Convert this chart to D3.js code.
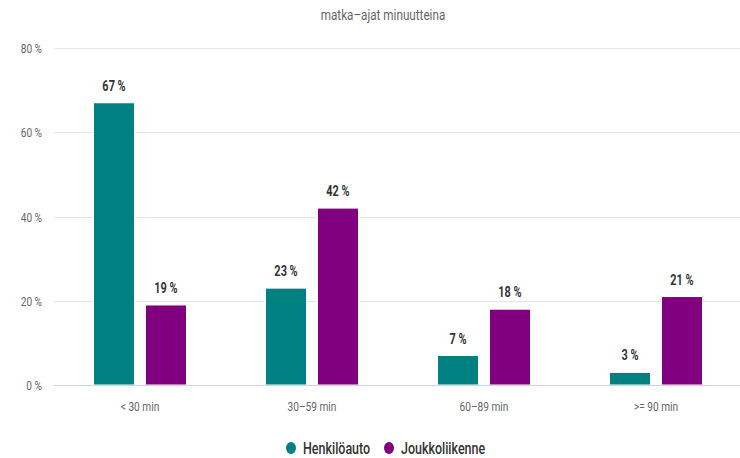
<!DOCTYPE html>
<html>
<head>
<meta charset="utf-8">
<script src="https://cdn.jsdelivr.net/npm/d3@7"></script>
<style>
  html, body { margin: 0; padding: 0; background: #fff; }
  svg { display: block; font-family: Roboto, "Noto Sans", sans-serif; }
</style>
</head>
<body>
<svg id="chart" width="740" height="458"></svg>
<script>
// Travel times in minutes: share of trips by car vs. public transport
const categories = ["< 30 min", "30–59 min", "60–89 min", ">= 90 min"];
const seriesNames = ["Henkilöauto", "Joukkoliikenne"];
const henkiloauto = [67, 23, 7, 3];
const joukkoliikenne = [19, 42, 18, 21];
const yTicks = [0, 20, 40, 60, 80];
const colors = ["#008080", "#800080"];
const title = "matka–ajat minuutteina";

const svg = d3.select("#chart");
const W = 740, H = 458;
const margin = { left: 54, right: -2, top: 48, bottom: 73 };
const y0 = H - margin.bottom;
const SX = 0.78; // horizontal squeeze for a narrow typeface look

const x = d3.scaleBand().domain(categories).range([margin.left, W - margin.right]);
const xs = d3.scaleBand().domain(seriesNames).range([0, x.bandwidth()]).paddingInner(0.21).paddingOuter(0.76);
const y = d3.scaleLinear().domain([0, 80]).range([y0, margin.top]);

// place a narrow text at (px, py)
function narrow(sel, px, py) {
  return sel.attr("transform", (d, i) => `translate(${px(d, i)},${py(d, i)}) scale(${SX},1)`);
}

// Title
narrow(svg.append("text").datum(title), () => 383, () => 20)
  .attr("text-anchor", "middle")
  .attr("fill", "#666").attr("font-size", 15)
  .text(title);

// Grid lines and y labels
const yAxis = svg.append("g");
yAxis.selectAll("line").data(yTicks.filter(d => d > 0)).join("line")
  .attr("x1", margin.left).attr("x2", W)
  .attr("y1", d => Math.round(y(d)) + 0.5).attr("y2", d => Math.round(y(d)) + 0.5)
  .attr("stroke", "#e6e6e6").attr("stroke-width", 1);
narrow(yAxis.selectAll("text").data(yTicks).join("text"), () => 42, d => y(d) + 5)
  .attr("text-anchor", "end")
  .attr("fill", "#666").attr("font-size", 13)
  .text(d => d + " %");

// Bars
const rows = categories.map((c, i) => ({ cat: c, values: [henkiloauto[i], joukkoliikenne[i]] }));
const groups = svg.append("g").selectAll("g").data(rows).join("g")
  .attr("transform", d => `translate(${x(d.cat)},0)`);
const cells = d => d.values.map((v, j) => ({ v, s: seriesNames[j], j }));
groups.selectAll("rect").data(cells).join("rect")
  .attr("x", d => xs(d.s)).attr("width", xs.bandwidth())
  .attr("y", d => y(d.v)).attr("height", d => y0 - y(d.v))
  .attr("fill", d => colors[d.j])
  .attr("stroke", "#ffffff").attr("stroke-width", 1);
narrow(groups.selectAll("text").data(cells).join("text"),
       d => xs(d.s) + xs.bandwidth() / 2, d => y(d.v) - 12)
  .attr("text-anchor", "middle")
  .attr("fill", "#333").attr("font-size", 14).attr("font-weight", "bold")
  .text(d => d.v + " %");

// Baseline
svg.append("line")
  .attr("x1", margin.left).attr("x2", W)
  .attr("y1", Math.round(y0) + 0.5).attr("y2", Math.round(y0) + 0.5)
  .attr("stroke", "#ccd6eb").attr("stroke-width", 1);

// X axis labels
narrow(svg.append("g").selectAll("text").data(categories).join("text"),
       d => x(d) + x.bandwidth() / 2, () => y0 + 26)
  .attr("text-anchor", "middle")
  .attr("fill", "#666").attr("font-size", 13)
  .text(d => d);

// Legend
const legendItems = [
  { name: seriesNames[0], color: colors[0], cx: 291 },
  { name: seriesNames[1], color: colors[1], cx: 389 }
];
const lg = svg.append("g").selectAll("g").data(legendItems).join("g");
lg.append("ellipse")
  .attr("cx", d => d.cx).attr("cy", 448).attr("rx", 5).attr("ry", 6)
  .attr("fill", d => d.color);
narrow(lg.append("text"), d => d.cx + 12, () => 454)
  .attr("fill", "#333").attr("font-size", 16).attr("font-weight", 500)
  .text(d => d.name);
</script>
</body>
</html>
